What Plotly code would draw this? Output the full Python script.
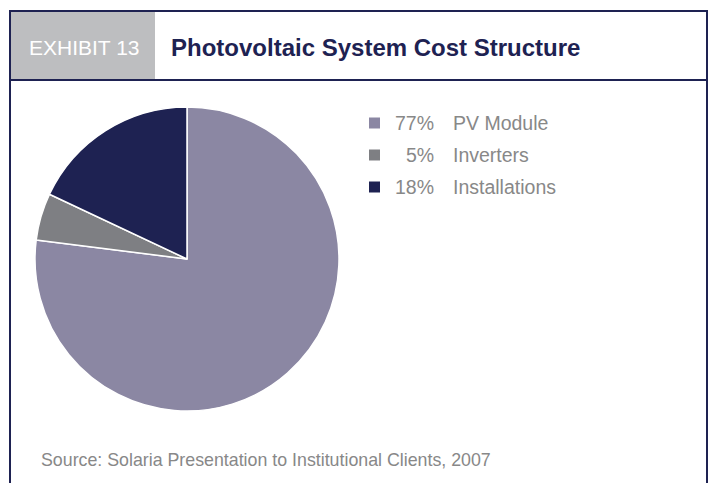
import plotly.graph_objects as go

labels = ["PV Module", "Inverters", "Installations"]
values = [77, 5, 18]
colors = ["#8B87A3", "#7E7F83", "#1E2252"]
title = "Photovoltaic System Cost Structure"
exhibit = "EXHIBIT 13"
source = "Source: Solaria Presentation to Institutional Clients, 2007"

W, H = 709, 483
def px(x): return x / W
def py(y): return 1 - y / H

fig = go.Figure()
fig.add_trace(go.Pie(
    labels=labels, values=values, sort=False, direction="clockwise", rotation=0,
    marker=dict(colors=colors, line=dict(color="white", width=1.5)),
    textinfo="none", hoverinfo="label+percent", showlegend=False,
    domain=dict(x=[px(35), px(339)], y=[py(411), py(107)]),
))

navy = "#1E2252"
gray_txt = "#888888"
shapes = [
    dict(type="rect", xref="paper", yref="paper", x0=px(10), x1=px(155), y0=py(80), y1=py(11),
         fillcolor="#BDBEC0", line=dict(width=0), layer="below"),
    dict(type="line", xref="paper", yref="paper", x0=px(10), x1=px(707), y0=py(11), y1=py(11), line=dict(color=navy, width=2)),
    dict(type="line", xref="paper", yref="paper", x0=px(10), x1=px(707), y0=py(80), y1=py(80), line=dict(color=navy, width=2)),
    dict(type="line", xref="paper", yref="paper", x0=px(10), x1=px(10), y0=py(10), y1=py(483), line=dict(color=navy, width=2)),
    dict(type="line", xref="paper", yref="paper", x0=px(707), x1=px(707), y0=py(10), y1=py(483), line=dict(color=navy, width=2)),
]
annotations = [
    dict(text=exhibit, x=px(27), y=py(47), xref="paper", yref="paper", xanchor="left", yanchor="middle",
         showarrow=False, font=dict(family="Liberation Sans, Arial, sans-serif", size=21, color="white")),
    dict(text="<b>" + title + "</b>", x=px(169), y=py(47), xref="paper", yref="paper", xanchor="left", yanchor="middle",
         showarrow=False, font=dict(family="Liberation Sans, Arial, sans-serif", size=24, color=navy)),
    dict(text=source, x=px(39), y=py(460), xref="paper", yref="paper", xanchor="left", yanchor="middle",
         showarrow=False, font=dict(family="Liberation Sans, Arial, sans-serif", size=17.8, color=gray_txt)),
]
row_y = [123, 155, 187]
for lab, v, c, yy in zip(labels, values, colors, row_y):
    shapes.append(dict(type="rect", xref="paper", yref="paper", x0=px(369), x1=px(380), y0=py(yy + 5.5), y1=py(yy - 5.5),
                       fillcolor=c, line=dict(width=0)))
    annotations.append(dict(text=f"{v}%", x=px(436), y=py(yy), xref="paper", yref="paper", xanchor="right", yanchor="middle",
                            showarrow=False, font=dict(family="Liberation Sans, Arial, sans-serif", size=19.5, color=gray_txt)))
    annotations.append(dict(text=lab, x=px(451), y=py(yy), xref="paper", yref="paper", xanchor="left", yanchor="middle",
                            showarrow=False, font=dict(family="Liberation Sans, Arial, sans-serif", size=19.5, color=gray_txt)))

fig.update_layout(width=W, height=H, margin=dict(l=0, r=0, t=0, b=0), paper_bgcolor="white", plot_bgcolor="white",
                  shapes=shapes, annotations=annotations)
fig.write_html("out.html")
